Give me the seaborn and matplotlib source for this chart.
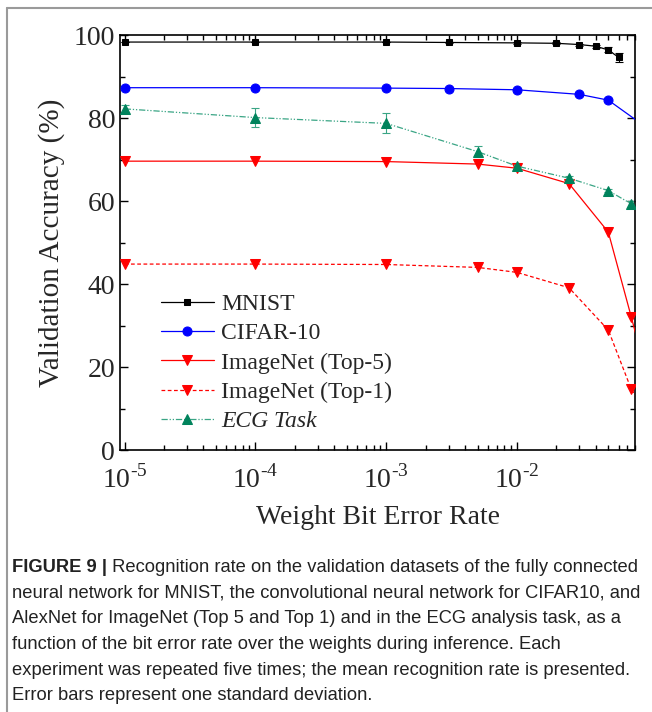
import numpy as np
import pandas as pd
import matplotlib
matplotlib.use("Agg")
import matplotlib.pyplot as plt
import matplotlib.ticker as mticker
from matplotlib.lines import Line2D
import seaborn as sns

# --- data ---
mnist_x = [1e-5, 1e-4, 1e-3, 3e-3, 1e-2, 2e-2, 3e-2, 4e-2, 5e-2, 6e-2]
mnist_y = [98.3, 98.3, 98.3, 98.2, 98.1, 98.0, 97.7, 97.3, 96.4, 94.6]
mnist_err = [0.1, 0.1, 0.1, 0.1, 0.15, 0.2, 0.25, 0.35, 0.6, 1.1]

cifar_x = [1e-5, 1e-4, 1e-3, 3e-3, 1e-2, 3e-2, 5e-2, 1e-1]
cifar_y = [87.3, 87.3, 87.2, 87.1, 86.8, 85.7, 84.3, 77.5]

imnet_x = [1e-5, 1e-4, 1e-3, 5e-3, 1e-2, 2.5e-2, 5e-2, 7.5e-2, 1e-1]
top5_y = [69.6, 69.6, 69.5, 68.9, 67.9, 64.2, 52.5, 32.0, 17.0]
top1_y = [44.8, 44.8, 44.7, 44.0, 42.8, 39.1, 28.9, 14.6, 9.0]

ecg_x = [1e-5, 1e-4, 1e-3, 5e-3, 1e-2, 2.5e-2, 5e-2, 7.5e-2]
ecg_y = [82.2, 80.1, 78.7, 71.9, 68.4, 65.5, 62.5, 59.3]
ecg_err = [1.0, 2.2, 2.4, 1.3, 0.8, 0.6, 0.4, 0.8]

x_ticks = [1e-5, 1e-4, 1e-3, 1e-2]
x_ticklabels = ["10$^{\\mathregular{\u20105}}$", "10$^{\\mathregular{\u20104}}$",
                "10$^{\\mathregular{\u20103}}$", "10$^{\\mathregular{\u20102}}$"]
y_ticks = [0, 20, 40, 60, 80, 100]

caption_bold = "FIGURE 9 |"
caption_lines = [
    " Recognition rate on the validation datasets of the fully connected",
    "neural network for MNIST, the convolutional neural network for CIFAR10, and",
    "AlexNet for ImageNet (Top 5 and Top 1) and in the ECG analysis task, as a",
    "function of the bit error rate over the weights during inference. Each",
    "experiment was repeated five times; the mean recognition rate is presented.",
    "Error bars represent one standard deviation.",
]

sns.set_style("ticks")
plt.rcParams["font.family"] = ["Liberation Serif", "DejaVu Serif"]
plt.rcParams["mathtext.fontset"] = "custom"
plt.rcParams["mathtext.rm"] = "Liberation Serif"

W, H = 652, 712
fig = plt.figure(figsize=(W / 100, H / 100), dpi=100)
ax = fig.add_axes([120 / W, 1 - 450 / H, 515 / W, 415 / H])

series = [
    ("MNIST", mnist_x, mnist_y, "black", "black", "s", 4.5, "-"),
    ("CIFAR-10", cifar_x, cifar_y, "#0000ff", "#0000ff", "o", 6.5, "-"),
    ("ImageNet (Top-5)", imnet_x, top5_y, "#ff0000", "#ff0000", "v", 7, "-"),
    ("ImageNet (Top-1)", imnet_x, top1_y, "#ff0000", "#ff0000", "v", 7, (0, (3, 2))),
    ("ECG Task", ecg_x, ecg_y, "#3aa585", "#00835c", "^", 7, (0, (5, 1.5, 1, 1.5, 1, 1.5))),
]

for name, xs, ys, lc, mc, mk, ms, ls in series:
    df = pd.DataFrame({"ber": xs, "acc": ys})
    sns.lineplot(data=df, x="ber", y="acc", ax=ax, color=lc, linewidth=0.9,
                 linestyle=ls, marker=mk, markersize=ms, markerfacecolor=mc,
                 markeredgecolor=mc, label=name, zorder=3)

ax.errorbar(mnist_x, mnist_y, yerr=mnist_err, fmt="none", ecolor="black",
            elinewidth=0.8, capsize=3, capthick=0.8, zorder=2)
ax.errorbar(ecg_x, ecg_y, yerr=ecg_err, fmt="none", ecolor="#3aa585",
            elinewidth=0.8, capsize=3, capthick=0.8, zorder=2)

ax.set_xscale("log")
ax.set_xlim(9.2e-6, 0.08)
ax.set_ylim(0, 100)
ax.set_xticks(x_ticks)
ax.set_xticklabels(x_ticklabels)
ax.xaxis.set_minor_locator(mticker.LogLocator(base=10, subs=np.arange(2, 10)))
ax.xaxis.set_minor_formatter(mticker.NullFormatter())
ax.set_yticks(y_ticks)
ax.yaxis.set_minor_locator(mticker.MultipleLocator(10))

ax.tick_params(which="both", direction="in", top=True, right=True, color="black",
               labelsize=20, width=1.0)
ax.tick_params(which="major", length=6)
ax.tick_params(which="minor", length=3.5)
ax.tick_params(axis="x", pad=11)
for s in ax.spines.values():
    s.set_color("black")
    s.set_linewidth(1.2)

ax.set_xlabel("Weight Bit Error Rate", fontsize=20, labelpad=8)
ax.set_ylabel("Validation Accuracy (%)", fontsize=21, labelpad=6)

leg = ax.legend(loc="lower left", bbox_to_anchor=(0.061, 0.02), frameon=False,
                fontsize=17, handlelength=2.25, handletextpad=0.3,
                labelspacing=0.33, borderaxespad=0, numpoints=1)
leg.get_texts()[4].set_fontstyle("italic")

# figure border (left and top)
fig.add_artist(Line2D([7 / W, 7 / W], [0, 1 - 8 / H], color="#9a9a9a", lw=1.5,
                      transform=fig.transFigure))
fig.add_artist(Line2D([7 / W, 1], [1 - 8 / H, 1 - 8 / H], color="#9a9a9a", lw=1.5,
                      transform=fig.transFigure))

# caption: size chosen so the first line spans the same width as in the figure
cap_font = ["Liberation Sans Narrow", "Liberation Sans", "DejaVu Sans"]
y0 = 567
step = 25.8
renderer = fig.canvas.get_renderer()
probe_b = fig.text(0, 0, caption_bold, fontsize=13, family=cap_font, fontweight="bold")
probe_r = fig.text(0, 0, caption_lines[0], fontsize=13, family=cap_font)
w13 = probe_b.get_window_extent(renderer).width + probe_r.get_window_extent(renderer).width
probe_b.remove()
probe_r.remove()
cap_size = 13 * 626 / w13

tb = fig.text(12 / W, 1 - y0 / H, caption_bold, fontsize=cap_size, family=cap_font,
              fontweight="bold", va="center", ha="left", color="#222222")
bb = tb.get_window_extent(renderer)
fig.text(bb.x1 / W, 1 - y0 / H, caption_lines[0], fontsize=cap_size, family=cap_font,
         va="center", ha="left", color="#222222")
for i, line in enumerate(caption_lines[1:], start=1):
    fig.text(12 / W, 1 - (y0 + i * step) / H, line, fontsize=cap_size, family=cap_font,
             va="center", ha="left", color="#222222")

fig.savefig("out.png", dpi=100)
